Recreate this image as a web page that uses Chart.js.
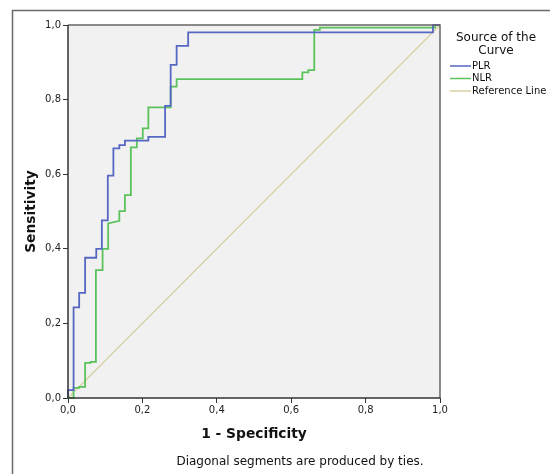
<!DOCTYPE html>
<html><head><meta charset="utf-8">
<script src="https://cdn.jsdelivr.net/npm/chart.js@4.4.1/dist/chart.umd.min.js"></script>
<style>html,body{margin:0;padding:0;background:#fff}#wrap{width:550px;height:474px;position:relative}</style>
</head><body><div id="wrap"><canvas id="c"></canvas></div>
<script>
// ---- data (vertices of the ROC step curves) ----
const seriesNames = ['PLR', 'NLR', 'Reference Line'];
const plrFpr = [0, 0, 0.015, 0.015, 0.030, 0.030, 0.046, 0.046, 0.076, 0.076, 0.091, 0.091, 0.107, 0.107, 0.122, 0.122, 0.138, 0.138, 0.153, 0.153, 0.216, 0.216, 0.261, 0.261, 0.276, 0.276, 0.292, 0.292, 0.323, 0.323, 0.981, 0.981, 1.0];
const plrTpr = [0, 0.021, 0.021, 0.243, 0.243, 0.282, 0.282, 0.376, 0.376, 0.400, 0.400, 0.476, 0.476, 0.596, 0.596, 0.669, 0.669, 0.678, 0.678, 0.690, 0.690, 0.700, 0.700, 0.783, 0.783, 0.893, 0.893, 0.944, 0.944, 0.980, 0.980, 1.0, 1.0];
const nlrFpr = [0, 0.015, 0.015, 0.030, 0.030, 0.046, 0.046, 0.061, 0.061, 0.075, 0.075, 0.093, 0.093, 0.108, 0.108, 0.138, 0.138, 0.153, 0.153, 0.169, 0.169, 0.185, 0.185, 0.201, 0.201, 0.216, 0.216, 0.276, 0.276, 0.292, 0.292, 0.630, 0.630, 0.646, 0.646, 0.662, 0.662, 0.677, 0.677, 0.987, 0.987, 1.0];
const nlrTpr = [0, 0, 0.027, 0.027, 0.030, 0.030, 0.094, 0.094, 0.097, 0.097, 0.343, 0.343, 0.400, 0.400, 0.468, 0.475, 0.501, 0.501, 0.544, 0.544, 0.672, 0.672, 0.696, 0.696, 0.723, 0.723, 0.779, 0.779, 0.835, 0.835, 0.855, 0.855, 0.873, 0.873, 0.879, 0.879, 0.987, 0.987, 0.993, 0.993, 1.0, 1.0];
const refFpr = [0, 1];
const refTpr = [0, 1];
const tickValues = [0, 0.2, 0.4, 0.6, 0.8, 1.0];
const tickLabels = ['0,0', '0,2', '0,4', '0,6', '0,8', '1,0'];
const xTitle = '1 - Specificity';
const yTitle = 'Sensitivity';
const legendTitle = ['Source of the', 'Curve'];
const footnote = 'Diagonal segments are produced by ties.';
const colors = ['#5668c2', '#5cc25c', '#d9d0a2'];

const toPts = (xs, ys) => xs.map((x, i) => ({x: x, y: ys[i]}));
const FONT = '"DejaVu Sans", sans-serif';

const decor = {
  id: 'decor',
  beforeDraw(chart) {
    const {ctx, chartArea: a} = chart;
    ctx.save();
    ctx.fillStyle = '#f1f1f1';
    ctx.fillRect(a.left, a.top, a.right - a.left, a.bottom - a.top);
    // outer frame
    ctx.strokeStyle = '#6a6a6a';
    ctx.lineWidth = 1.5;
    ctx.beginPath();
    ctx.moveTo(12.5, 474);
    ctx.lineTo(12.5, 10.5);
    ctx.lineTo(550, 10.5);
    ctx.stroke();
    ctx.restore();
  },
  afterDraw(chart) {
    const {ctx, chartArea: a} = chart;
    ctx.save();
    ctx.strokeStyle = '#666';
    ctx.lineWidth = 1.5;
    ctx.beginPath();
    ctx.moveTo(a.left, a.top);
    ctx.lineTo(a.right, a.top);
    ctx.lineTo(a.right, a.bottom);
    ctx.stroke();
    ctx.strokeStyle = '#333';
    ctx.beginPath();
    ctx.moveTo(a.left, a.top);
    ctx.lineTo(a.left, a.bottom);
    ctx.lineTo(a.right, a.bottom);
    ctx.stroke();
    // legend
    ctx.fillStyle = '#111';
    ctx.textAlign = 'center';
    ctx.textBaseline = 'middle';
    ctx.font = '12px ' + FONT;
    legendTitle.forEach((t, i) => ctx.fillText(t, 496, 38 + i * 12.5));
    ctx.font = '10px ' + FONT;
    ctx.textAlign = 'left';
    chart.data.datasets.forEach((ds, i) => {
      const y = 66 + i * 12.5;
      ctx.strokeStyle = ds.borderColor;
      ctx.lineWidth = 1.5;
      ctx.beginPath();
      ctx.moveTo(450, y);
      ctx.lineTo(471, y);
      ctx.stroke();
      ctx.fillStyle = '#111';
      ctx.fillText(ds.label, 472, y);
    });
    // footnote
    ctx.font = '12px ' + FONT;
    ctx.textAlign = 'center';
    ctx.fillStyle = '#111';
    ctx.fillText(footnote, 300, 462);
    ctx.restore();
  }
};

const tickOpts = {
  color: '#222',
  font: {family: FONT, size: 10},
  callback: (v, i) => tickLabels[i]
};

new Chart(document.getElementById('c'), {
  type: 'scatter',
  data: {
    datasets: [
      {label: seriesNames[0], data: toPts(plrFpr, plrTpr), borderColor: colors[0]},
      {label: seriesNames[1], data: toPts(nlrFpr, nlrTpr), borderColor: colors[1]},
      {label: seriesNames[2], data: toPts(refFpr, refTpr), borderColor: colors[2], borderWidth: 1.2}
    ].map(d => Object.assign({showLine: true, pointRadius: 0, borderWidth: 1.8, fill: false, clip: 4, tension: 0}, d))
  },
  options: {
    responsive: true,
    maintainAspectRatio: false,
    animation: false,
    layout: {padding: {left: 12, top: 25, right: 110, bottom: 0}},
    plugins: {legend: {display: false}, tooltip: {enabled: false}},
    scales: {
      x: {
        type: 'linear', min: 0, max: 1,
        afterBuildTicks: s => { s.ticks = tickValues.map(v => ({value: v})); },
        afterFit: s => { s.height = 76; },
        grid: {drawOnChartArea: false, drawTicks: true, tickLength: 5, color: '#333'},
        border: {display: false},
        ticks: Object.assign({padding: 1, maxRotation: 0}, tickOpts),
        title: {display: true, text: xTitle, color: '#111', font: {family: FONT, size: 13.8, weight: 'bold'}, padding: {top: 0, bottom: 31}}
      },
      y: {
        type: 'linear', min: 0, max: 1,
        afterBuildTicks: s => { s.ticks = tickValues.map(v => ({value: v})); },
        afterFit: s => { s.width = 56; },
        grid: {drawOnChartArea: false, drawTicks: true, tickLength: 5, color: '#333'},
        border: {display: false},
        ticks: Object.assign({padding: 2}, tickOpts),
        title: {display: true, text: yTitle, color: '#111', font: {family: FONT, size: 13.8, weight: 'bold'}, padding: {top: 11, bottom: 0}}
      }
    }
  },
  plugins: [decor]
});
</script>
</body></html>
